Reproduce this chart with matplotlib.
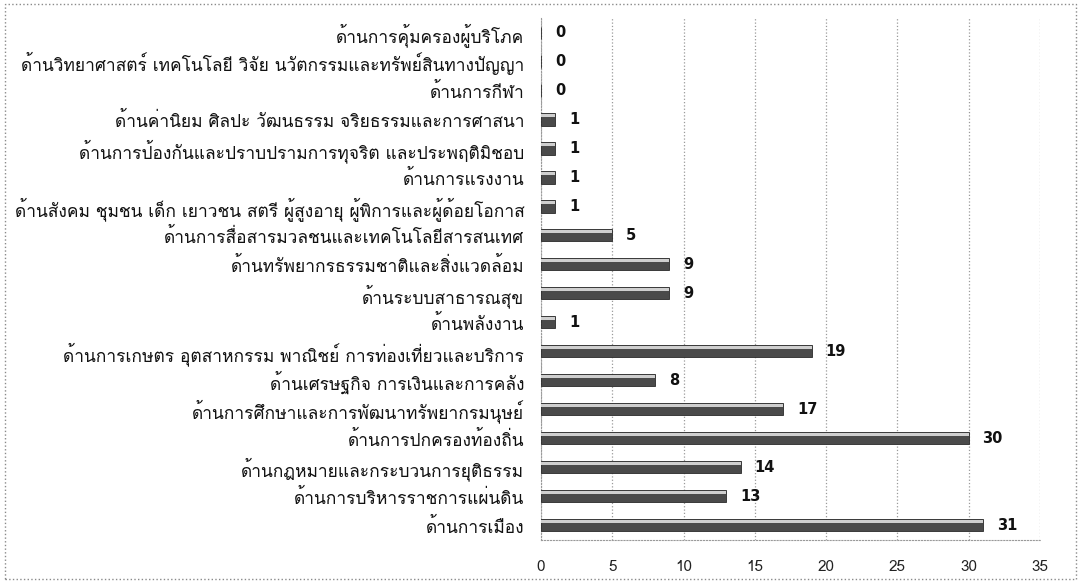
import matplotlib
matplotlib.use("Agg")
import matplotlib.pyplot as plt
import numpy as np
from matplotlib import font_manager
from matplotlib.ft2font import FT2Font
from matplotlib.patches import Rectangle

# -------------------- DATA --------------------
categories = [
    "ด้านการคุ้มครองผู้บริโภค",
    "ด้านวิทยาศาสตร์ เทคโนโลยี วิจัย นวัตกรรมและทรัพย์สินทางปัญญา",
    "ด้านการกีฬา",
    "ด้านค่านิยม ศิลปะ วัฒนธรรม จริยธรรมและการศาสนา",
    "ด้านการป้องกันและปราบปรามการทุจริต และประพฤติมิชอบ",
    "ด้านการแรงงาน",
    "ด้านสังคม ชุมชน เด็ก เยาวชน สตรี ผู้สูงอายุ ผู้พิการและผู้ด้อยโอกาส",
    "ด้านการสื่อสารมวลชนและเทคโนโลยีสารสนเทศ",
    "ด้านทรัพยากรธรรมชาติและสิ่งแวดล้อม",
    "ด้านระบบสาธารณสุข",
    "ด้านพลังงาน",
    "ด้านการเกษตร อุตสาหกรรม พาณิชย์ การท่องเที่ยวและบริการ",
    "ด้านเศรษฐกิจ การเงินและการคลัง",
    "ด้านการศึกษาและการพัฒนาทรัพยากรมนุษย์",
    "ด้านการปกครองท้องถิ่น",
    "ด้านกฎหมายและกระบวนการยุติธรรม",
    "ด้านการบริหารราชการแผ่นดิน",
    "ด้านการเมือง",
]
values = [0, 0, 0, 1, 1, 1, 1, 5, 9, 9, 1, 19, 8, 17, 30, 14, 13, 31]
x_ticks = [0, 5, 10, 15, 20, 25, 30, 35]

# -------------------- FONT --------------------
def _thai_family():
    seen = set()
    for f in font_manager.fontManager.ttflist:
        if f.name in seen:
            continue
        try:
            cmap = FT2Font(f.fname).get_charmap()
        except Exception:
            continue
        if 0x0E01 in cmap and 0x0E49 in cmap:
            return f.name
        seen.add(f.name)
    return None

thai = _thai_family()
families = ([thai] if thai else []) + ["DejaVu Sans"]
plt.rcParams["font.family"] = families

# -------------------- PLOT --------------------
fig = plt.figure(figsize=(10.81, 5.84), dpi=100)
ax = fig.add_axes([0.5005, 0.076, 0.4615, 0.893])

y = np.arange(len(categories))[::-1]
ax.barh(y, values, height=0.42, color="#4a4a4a", edgecolor="#2a2a2a",
        linewidth=0.6, zorder=3)
ax.barh(y + 0.13, values, height=0.1, color="#cfcfcf", edgecolor="none",
        zorder=4)

for yi, v in zip(y, values):
    ax.annotate(f"{v}", (v, yi), xytext=(10, 0), textcoords="offset points",
                va="center", ha="left", fontsize=10.5, fontweight="bold",
                family=["DejaVu Sans"], color="#111111")

ax.set_xlim(0, 35)
ax.set_ylim(-0.5, len(categories) - 0.5)
ax.set_xticks(x_ticks)
ax.set_yticks(y)
ax.set_yticklabels(categories, fontsize=12.5, color="#111111")
ax.tick_params(axis="y", length=0, pad=12)
ax.tick_params(axis="x", length=0, pad=15, labelsize=11, labelcolor="#222222")

ax.xaxis.grid(True, linestyle=":", color="#9a9a9a", linewidth=0.9, zorder=0)
for s in ["top", "right"]:
    ax.spines[s].set_visible(False)
ax.spines["left"].set_color("#9a9a9a")
ax.spines["left"].set_linestyle(":")
ax.spines["bottom"].set_color("#9a9a9a")
ax.spines["bottom"].set_linestyle(":")

# thin frame around the whole figure
fig.patches.append(Rectangle((0.005, 0.008), 0.99, 0.985, transform=fig.transFigure,
                             fill=False, edgecolor="#8a8a8a", linewidth=1.0,
                             linestyle=":"))

fig.savefig("out.png", dpi=100)
